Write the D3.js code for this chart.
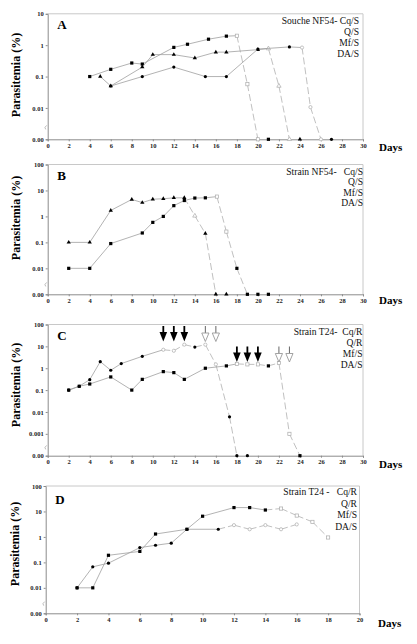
<!DOCTYPE html>
<html><head><meta charset="utf-8">
<script src="https://cdn.jsdelivr.net/npm/d3@7"></script>
<style>
html,body{margin:0;padding:0;background:#fff;}
text{font-family:"Liberation Serif","Times New Roman",serif;}
</style></head>
<body><svg id="c" width="417" height="644"></svg>
<script>
// ---------- DATA ----------
const xTicks30 = [0,2,4,6,8,10,12,14,16,18,20,22,24,26,28,30];
const xTicks20 = [0,2,4,6,8,10,12,14,16,18,20];
const yTicksA = [0.001,0.01,0.1,1,10];
const yLabelsA = ["0.00","0.01","0.1","1","10"];
const yTicksB = [0.001,0.01,0.1,1,10,100];
const yLabelsB = ["0.00","0.01","0.1","1","10","100"];
const yTicksC = [0.0001,0.001,0.01,0.1,1,10,100];
const yLabelsC = ["0.00","0.001","0.01","0.1","1","10","100"];
const yTicksD = [0.001,0.01,0.1,1,10,100];
const yLabelsD = ["0.00","0.01","0.1","1","10","100"];

const legendA = ["Souche NF54- Cq/S","Q/S","Mf/S","DA/S"];
const legendB = ["Strain NF54-\u00a0\u00a0\u00a0Cq/S","Q/S","Mf/S","DA/S"];
const legendC = ["Strain T24-\u00a0\u00a0Cq/R","Q/R","Mf/S","DA/S"];
const legendD = ["Strain T24 -\u00a0\u00a0\u00a0Cq/R","Q/R","Mf/S","DA/S"];

// Panel A
const aDays1 = [4,6,8,9,12,13.3,15.3,17,18,19,20,21];
const aVals1 = [0.1,0.17,0.27,0.25,0.85,1.07,1.55,1.94,2.0,0.057,0,0];
const aDays2 = [5,6,9,10,12,14,16,17,20,21,22,23,24];
const aVals2 = [0.1,0.05,0.2,0.5,0.5,0.39,0.6,0.6,0.72,0.78,0.05,0,0];
const aDays3 = [6,9,12,15,17,20,23,24.2,25,26,27];
const aVals3 = [0.05,0.1,0.2,0.1,0.1,0.75,0.88,0.84,0.0106,0,0];
// Panel B
const bDays1 = [2,4,6,8,9,10,11,12,13,14,15,16,17];
const bVals1 = [0.1,0.1,1.7,4.5,3.4,4.6,4.8,5.2,5.2,1.05,0.22,0,0];
const bDays2 = [2,4,6,9,10,11,12,13,14,15,16.1,17,18,19,20,21];
const bVals2 = [0.01,0.01,0.09,0.23,0.59,1.0,2.6,4.1,5.1,5.2,5.8,0.26,0.01,0,0,0];
// Panel C
const cDays1 = [2,3,4,5,6,7,9,11,12,13,14,15,16,17.3,18,19];
const cVals1 = [0.1,0.15,0.3,2.0,0.81,1.63,3.5,7.0,6.3,12,9.3,12,1.5,0.006,0,0];
const cDays2 = [2,3,4,6,8,9,11,12,13,15,17,18,19,20,21,22,23,24];
const cVals2 = [0.1,0.15,0.19,0.4,0.1,0.31,0.7,0.63,0.31,1.0,1.28,1.58,1.5,1.5,1.28,1.75,0.001,0];
const cFullArrows1 = [11,12,13];
const cOpenArrows1 = [15,16];
const cFullArrows2 = [18,19,20];
const cOpenArrows2 = [22,23];
// Panel D
const dDays1 = [2,3,4,6,7,8,9,11,12,13,14,15,16];
const dVals1 = [0.01,0.067,0.093,0.38,0.47,0.57,2.0,2.0,2.9,2.0,2.9,2.0,3.1];
const dDays2 = [2,3,4,6,7,9,10,12,13,14,15,16,17,18];
const dVals2 = [0.01,0.01,0.19,0.27,1.3,2.0,6.5,14.2,14.2,11.4,13,6.9,3.9,0.95];

// ---------- DRAWING ----------
const svg = d3.select("#c");
const LINE = "#a0a0a0", AX = "#8c8c8c", FRAME = "#c8c8c8";

function marker(g, shape, x, y, open) {
  const fill = open ? "#fff" : "#000";
  const stroke = open ? "#aaa" : "#000";
  if (shape === "square") {
    g.append("rect").attr("x", x-1.6).attr("y", y-1.6).attr("width", 3.2).attr("height", 3.2)
      .attr("fill", fill).attr("stroke", stroke).attr("stroke-width", open ? 0.7 : 0);
  } else if (shape === "circle") {
    g.append("circle").attr("cx", x).attr("cy", y).attr("r", 1.6)
      .attr("fill", fill).attr("stroke", stroke).attr("stroke-width", open ? 0.7 : 0);
  } else {
    g.append("path").attr("d", d3.symbol(d3.symbolTriangle, 8)())
      .attr("transform", `translate(${x},${y})`)
      .attr("fill", fill).attr("stroke", stroke).attr("stroke-width", open ? 0.7 : 0);
  }
}

function panel(p) {
  const g = svg.append("g");
  const x = d3.scaleLinear().domain([0, p.xMax]).range([p.x0, p.x1]);
  const yMin = p.yTicks[0];
  const y = d3.scaleLog().domain([yMin, p.yTicks[p.yTicks.length-1]]).range([p.y1, p.y0]);
  const yv = v => y(v === 0 ? yMin : v);

  // frame
  g.append("line").attr("x1", p.x0).attr("x2", p.x1).attr("y1", p.y0).attr("y2", p.y0).attr("stroke", FRAME);
  g.append("line").attr("x1", p.x1).attr("x2", p.x1).attr("y1", p.y0).attr("y2", p.y1).attr("stroke", FRAME);

  // axes
  const xa = g.append("g").attr("transform", `translate(0,${p.y1})`)
    .call(d3.axisBottom(x).tickValues(p.xTicks).tickSize(2).tickFormat(d3.format("d")));
  xa.select(".domain").attr("stroke", AX);
  xa.selectAll(".tick line").attr("stroke", AX);
  xa.selectAll(".tick text").attr("font-size", 6.5).attr("font-weight", "bold")
    .attr("font-family", "Liberation Serif, serif").attr("fill", "#222").attr("dy", "0.9em").attr("y", 2.5);
  const ya = g.append("g").attr("transform", `translate(${p.x0},0)`)
    .call(d3.axisLeft(y).tickValues(p.yTicks).tickSize(2).tickFormat((d,i) => p.yLabels[i]));
  ya.select(".domain").attr("stroke", AX);
  ya.selectAll(".tick line").attr("stroke", AX);
  ya.selectAll(".tick text").attr("font-size", 6.5).attr("font-weight", "bold")
    .attr("font-family", "Liberation Serif, serif").attr("fill", "#222").attr("x", -4);

  // axis break mark
  const by = (y(p.yTicks[0]) + y(p.yTicks[1])) / 2 + (y(p.yTicks[0]) - y(p.yTicks[1])) * 0.12;
  g.append("path").attr("d", `M${p.x0-2},${by+2} Q${p.x0-4},${by} ${p.x0-1},${by-2}`)
    .attr("fill", "none").attr("stroke", "#bbb").attr("stroke-width", 1);

  // y title
  g.append("text").attr("transform", `translate(${p.titleX},${p.titleY}) rotate(-90)`)
    .attr("text-anchor", "middle").attr("font-size", 12).attr("font-weight", "bold")
    .text("Parasitemia (%)");
  // Days
  g.append("text").attr("x", p.daysX).attr("y", p.daysY).attr("font-size", 11)
    .attr("font-weight", "bold").text("Days");
  // panel letter
  g.append("text").attr("x", p.x0 + 9.5).attr("y", p.y0 + p.letterDy).attr("font-size", 13)
    .attr("font-weight", "bold").text(p.letter);
  // legend text
  p.legend.forEach((t, i) => {
    g.append("text").attr("x", p.legendRight).attr("y", p.legendTop + i * p.legendStep)
      .attr("text-anchor", "end").attr("font-size", 9.6).attr("fill", "#111")
      .style("white-space", "pre").text(t);
  });

  // curves
  p.curves.forEach(c => {
    for (let i = 0; i < c.days.length - 1; i++) {
      if (c.vals[i] === 0 && c.vals[i+1] === 0) continue;
      const dashed = c.days[i] >= c.dashFrom;
      g.append("line")
        .attr("x1", x(c.days[i])).attr("y1", yv(c.vals[i]))
        .attr("x2", x(c.days[i+1])).attr("y2", yv(c.vals[i+1]))
        .attr("stroke", dashed ? "#b0b0b0" : LINE).attr("stroke-width", 0.8)
        .attr("stroke-dasharray", dashed ? "7,3" : null);
    }
    c.days.forEach((d, i) => marker(g, c.shape, x(d), yv(c.vals[i]), c.open.includes(d)));
  });

  return {g, x, y};
}

function arrow(g, x, yTop, full) {
  if (full) {
    g.append("rect").attr("x", x-0.9).attr("y", yTop).attr("width", 1.8).attr("height", 7).attr("fill", "#000");
    g.append("path").attr("d", `M${x-3.8},${yTop+6} L${x+3.8},${yTop+6} L${x},${yTop+15.5} Z`).attr("fill", "#000");
  } else {
    g.append("line").attr("x1", x).attr("x2", x).attr("y1", yTop).attr("y2", yTop+7)
      .attr("stroke", "#555").attr("stroke-width", 0.9);
    g.append("path").attr("d", `M${x-3.6},${yTop+7} L${x+3.6},${yTop+7} L${x},${yTop+15.5} Z`)
      .attr("fill", "#fff").attr("stroke", "#999").attr("stroke-width", 0.9);
  }
}

panel({
  x0: 47.7, x1: 363, y0: 13.8, y1: 139.3, xMax: 30, xTicks: xTicks30,
  yTicks: yTicksA, yLabels: yLabelsA, titleX: 19.5, titleY: 75,
  daysX: 379, daysY: 151, letter: "A", letterDy: 15.5,
  legend: legendA, legendRight: 359, legendTop: 24, legendStep: 11.1,
  curves: [
    {days: aDays1, vals: aVals1, shape: "square", dashFrom: 18, open: [18,19,20]},
    {days: aDays2, vals: aVals2, shape: "triangle", dashFrom: 21, open: [21,22,23]},
    {days: aDays3, vals: aVals3, shape: "circle", dashFrom: 24, open: [24.2,25,26]}
  ]
});

panel({
  x0: 47.7, x1: 363, y0: 164.5, y1: 294.3, xMax: 30, xTicks: xTicks30,
  yTicks: yTicksB, yLabels: yLabelsB, titleX: 19.5, titleY: 218,
  daysX: 379, daysY: 304, letter: "B", letterDy: 15.5,
  legend: legendB, legendRight: 363, legendTop: 174.5, legendStep: 10.6,
  curves: [
    {days: bDays1, vals: bVals1, shape: "triangle", dashFrom: 13, open: [14]},
    {days: bDays2, vals: bVals2, shape: "square", dashFrom: 16.1, open: [16.1,17]}
  ]
});

const pc = panel({
  x0: 47.7, x1: 363, y0: 324.5, y1: 455.7, xMax: 30, xTicks: xTicks30,
  yTicks: yTicksC, yLabels: yLabelsC, titleX: 19.5, titleY: 385,
  daysX: 379, daysY: 468, letter: "C", letterDy: 15,
  legend: legendC, legendRight: 362.5, legendTop: 335, legendStep: 11,
  curves: [
    {days: cDays1, vals: cVals1, shape: "circle", dashFrom: 11, open: [11,12,13,15,16]},
    {days: cDays2, vals: cVals2, shape: "square", dashFrom: 18, open: [18,19,20,22,23]}
  ]
});
cFullArrows1.forEach(d => arrow(pc.g, pc.x(d), 326, true));
cOpenArrows1.forEach(d => arrow(pc.g, pc.x(d), 326, false));
cFullArrows2.forEach(d => arrow(pc.g, pc.x(d), 346.5, true));
cOpenArrows2.forEach(d => arrow(pc.g, pc.x(d), 346.5, false));

panel({
  x0: 45.7, x1: 359.5, y0: 486, y1: 613.3, xMax: 20, xTicks: xTicks20,
  yTicks: yTicksD, yLabels: yLabelsD, titleX: 18.5, titleY: 544,
  daysX: 378, daysY: 626.5, letter: "D", letterDy: 17.5,
  legend: legendD, legendRight: 357, legendTop: 495, legendStep: 11.5,
  curves: [
    {days: dDays1, vals: dVals1, shape: "circle", dashFrom: 11, open: [12,13,14,15,16]},
    {days: dDays2, vals: dVals2, shape: "square", dashFrom: 14, open: [15,16,17,18]}
  ]
});
</script></body></html>
